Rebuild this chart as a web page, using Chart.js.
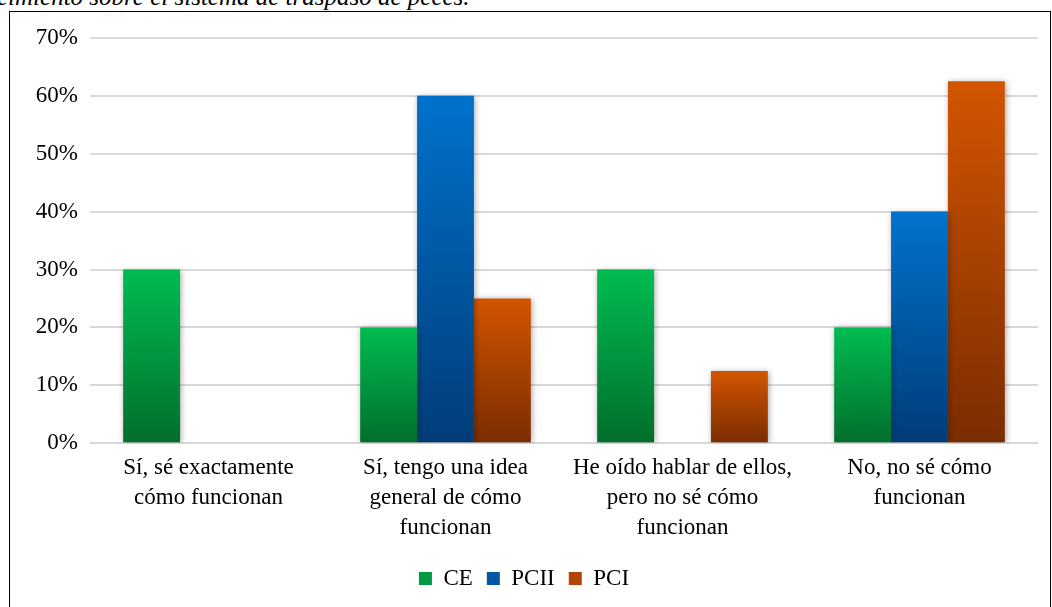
<!DOCTYPE html>
<html>
<head>
<meta charset="utf-8">
<script src="https://cdn.jsdelivr.net/npm/chart.js@4.4.1/dist/chart.umd.min.js"></script>
<style>
  html, body { margin: 0; padding: 0; background: #fff; overflow: hidden; }
  body { width: 1052px; height: 607px; position: relative; }
  #titulo {
    position: absolute; left: -3px; top: -17px;
    font: italic 25px "Liberation Serif", "Times New Roman", serif;
    color: #000; white-space: nowrap;
  }
  #caja {
    position: absolute; left: 9px; top: 11px; width: 1040px; height: 600px;
    border: 1.5px solid #000; background: #fff;
  }
  #caja canvas { display: block; }
</style>
</head>
<body>
<div id="titulo">cimiento sobre el sistema de traspaso de peces.</div>
<div id="caja"><canvas id="grafico" width="1040" height="600"></canvas></div>
<script>
const categorias = [
  ['Sí, sé exactamente', 'cómo funcionan'],
  ['Sí, tengo una idea', 'general de cómo', 'funcionan'],
  ['He oído hablar de ellos,', 'pero no sé cómo', 'funcionan'],
  ['No, no sé cómo', 'funcionan']
];
const serieCE = [30, 20, 30, 20];
const seriePCII = [0, 60, 0, 40];
const seriePCI = [0, 25, 12.5, 62.5];
const ticksY = [0, 10, 20, 30, 40, 50, 60, 70];

const colores = {
  CE: ['#00BC50', '#006E2C'],
  PCII: ['#0072CC', '#003C78'],
  PCI: ['#D35500', '#7A2C00']
};

// degradado por barra: claro arriba, oscuro abajo
function degradado(par) {
  return (context) => {
    const chart = context.chart;
    const y = chart.scales.y;
    if (!chart.chartArea || !y || context.parsed === undefined) return par[0];
    const v = context.parsed.y;
    const top = y.getPixelForValue(v);
    const bottom = y.getPixelForValue(0);
    if (!isFinite(top) || top === bottom) return par[0];
    const g = chart.ctx.createLinearGradient(0, top, 0, bottom);
    g.addColorStop(0, par[0]);
    g.addColorStop(1, par[1]);
    return g;
  };
}

const sombra = {
  id: 'sombra',
  beforeDatasetDraw(chart) {
    const ctx = chart.ctx;
    ctx.save();
    ctx.shadowColor = 'rgba(0,0,0,0.35)';
    ctx.shadowBlur = 6;
    ctx.shadowOffsetX = 1;
    ctx.shadowOffsetY = 1;
  },
  afterDatasetDraw(chart) {
    chart.ctx.restore();
  }
};

const fuente = '"Liberation Serif", "Times New Roman", serif';

new Chart(document.getElementById('grafico').getContext('2d'), {
  type: 'bar',
  data: {
    labels: categorias,
    datasets: [
      { label: 'CE', data: serieCE, backgroundColor: degradado(colores.CE), legendColor: '#009A40' },
      { label: 'PCII', data: seriePCII, backgroundColor: degradado(colores.PCII), legendColor: '#0058A4' },
      { label: 'PCI', data: seriePCI, backgroundColor: degradado(colores.PCI), legendColor: '#B04400' }
    ]
  },
  options: {
    responsive: false,
    animation: false,
    devicePixelRatio: 1,
    layout: { padding: { top: 18, right: 12, left: 0, bottom: 12 } },
    datasets: { bar: { categoryPercentage: 0.72, barPercentage: 1.0, borderWidth: 0 } },
    scales: {
      x: {
        grid: { display: false },
        border: { display: false },
        afterFit: (s) => { s.height += 8; },
        ticks: { color: '#000', font: { family: fuente, size: 23, lineHeight: 1.3 }, maxRotation: 0, padding: 2 }
      },
      y: {
        min: 0, max: 70,
        afterBuildTicks: (s) => { s.ticks = ticksY.map(v => ({ value: v })); },
        afterFit: (s) => { s.width = 80; },
        grid: { color: '#D9D9D9', lineWidth: 2, drawTicks: false },
        border: { display: false },
        ticks: { color: '#000', font: { family: fuente, size: 23 }, padding: 12, callback: v => v + '%' }
      }
    },
    plugins: {
      legend: {
        position: 'bottom',
        labels: {
          color: '#000',
          font: { family: fuente, size: 23 },
          boxWidth: 13, boxHeight: 13, padding: 14,
          generateLabels: (chart) => chart.data.datasets.map((ds, i) => ({
            text: ds.label, fillStyle: ds.legendColor, strokeStyle: ds.legendColor,
            lineWidth: 0, datasetIndex: i, fontColor: '#000'
          }))
        }
      },
      tooltip: { enabled: false }
    }
  },
  plugins: [sombra]
});
</script>
</body>
</html>
